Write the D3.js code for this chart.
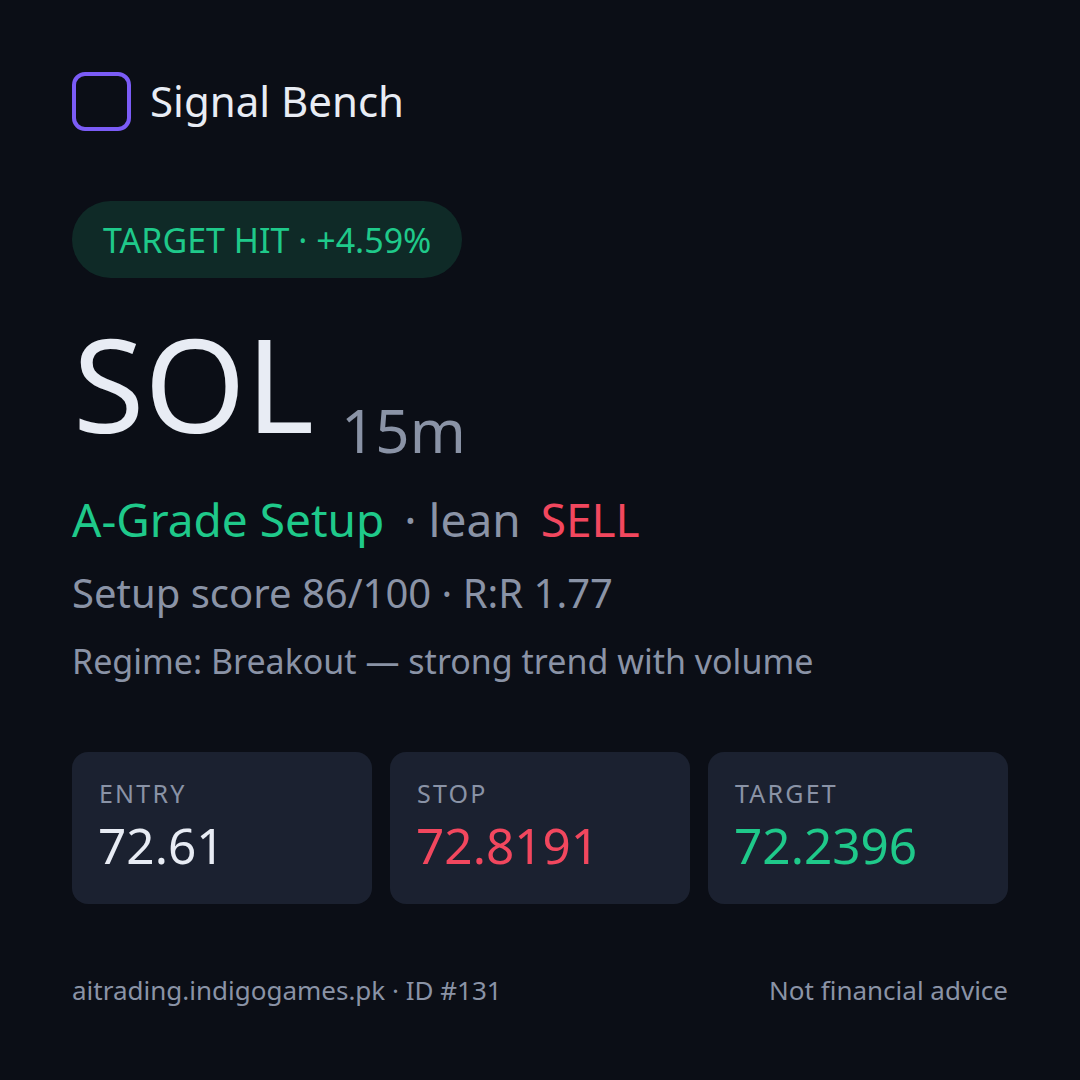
<!DOCTYPE html>
<html>
<head>
<meta charset="utf-8">
<script src="https://cdn.jsdelivr.net/npm/d3@7"></script>
<style>
  html, body { margin: 0; padding: 0; background: #0b0e16; }
  svg { display: block; font-family: "Noto Sans", sans-serif; }
</style>
</head>
<body>
<svg id="card" width="1080" height="1080"></svg>
<script>
// card data
var brand = "Signal Bench";
var status = "TARGET HIT · +4.59%";
var symbol = "SOL";
var timeframe = "15m";
var grade = "A-Grade Setup";
var leanWord = "· lean";
var side = "SELL";
var scoreLine = "Setup score 86/100 · R:R 1.77";
var regimeLine = "Regime: Breakout — strong trend with volume";
var levelLabels = ["ENTRY", "STOP", "TARGET"];
var levelValues = ["72.61", "72.8191", "72.2396"];
var levelColors = ["#e8ecf4", "#f2475e", "#1fc98a"];
var footLeft = "aitrading.indigogames.pk · ID #131";
var footRight = "Not financial advice";

var W = 1080, H = 1080;
var margin = {left: 72, right: 72};
var svg = d3.select("#card");

svg.append("rect")
    .attr("width", W)
    .attr("height", H)
    .attr("fill", "#0b0e16");

// logo + brand
svg.append("rect")
    .attr("x", 74).attr("y", 74)
    .attr("width", 55).attr("height", 55)
    .attr("rx", 11)
    .attr("fill", "none")
    .attr("stroke", "#7b5cf6")
    .attr("stroke-width", 4);

svg.append("text")
    .attr("x", 150).attr("y", 117)
    .attr("font-size", 42)
    .attr("fill", "#e8ecf4")
    .text(brand);

// status pill
svg.append("rect")
    .attr("x", 72).attr("y", 201)
    .attr("width", 390).attr("height", 77)
    .attr("rx", 38.5)
    .attr("fill", "#0f2a27");

svg.append("text")
    .attr("x", 103).attr("y", 253)
    .attr("font-size", 34)
    .attr("fill", "#1fc98a")
    .text(status);

// symbol
svg.append("text")
    .attr("x", 73).attr("y", 433)
    .attr("font-size", 130)
    .attr("fill", "#e8ecf4")
    .text(symbol);

svg.append("text")
    .attr("x", 341).attr("y", 453)
    .attr("font-size", 60)
    .attr("fill", "#8a93a6")
    .text(timeframe);

// grade line
var gradeLine = svg.append("text")
    .attr("x", 72).attr("y", 537)
    .attr("font-size", 46);
gradeLine.append("tspan").attr("fill", "#1fc98a").text(grade);
gradeLine.append("tspan").attr("fill", "#8a93a6").attr("dx", 20).text(leanWord);
gradeLine.append("tspan").attr("fill", "#f2475e").attr("dx", 20).text(side);

svg.append("text")
    .attr("x", 72).attr("y", 608)
    .attr("font-size", 40)
    .attr("fill", "#8a93a6")
    .text(scoreLine);

svg.append("text")
    .attr("x", 72).attr("y", 674)
    .attr("font-size", 34)
    .attr("fill", "#8a93a6")
    .text(regimeLine);

// level cards
var x = d3.scaleBand()
    .domain(levelLabels)
    .range([margin.left, W - margin.right + 18])
    .paddingInner(0);

var cardW = x.bandwidth() - 18;

var cards = svg.selectAll("g.level")
    .data(levelLabels)
    .join("g")
    .attr("class", "level")
    .attr("transform", function(d) { return "translate(" + x(d) + ",752)"; });

cards.append("rect")
    .attr("width", cardW)
    .attr("height", 152)
    .attr("rx", 16)
    .attr("fill", "#1b2130");

cards.append("text")
    .attr("x", 27).attr("y", 51)
    .attr("font-size", 25)
    .attr("letter-spacing", 2.2)
    .attr("fill", "#8a93a6")
    .text(function(d) { return d; });

cards.append("text")
    .attr("x", 26).attr("y", 112)
    .attr("font-size", 49.5)
    .attr("fill", function(d, i) { return levelColors[i]; })
    .text(function(d, i) { return levelValues[i]; });

// footer
svg.append("text")
    .attr("x", 72).attr("y", 1000)
    .attr("font-size", 26)
    .attr("fill", "#8a93a6")
    .text(footLeft);

svg.append("text")
    .attr("x", W - margin.right).attr("y", 1000)
    .attr("text-anchor", "end")
    .attr("font-size", 26)
    .attr("fill", "#8a93a6")
    .text(footRight);
</script>
</body>
</html>
